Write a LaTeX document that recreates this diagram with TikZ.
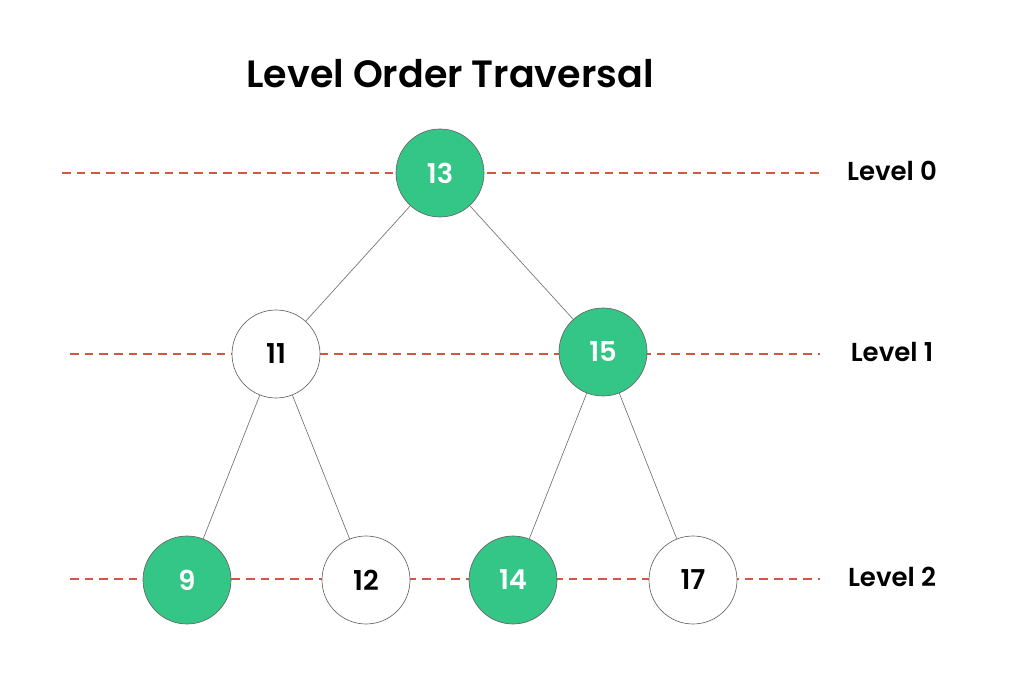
\documentclass[tikz,border=0pt]{standalone}
\usepackage{fontspec}
\setmainfont{Poppins}[BoldFont={Poppins SemiBold}]
\definecolor{knotengruen}{HTML}{34C686}
\definecolor{strichrot}{HTML}{CF5743}
\tikzset{
    knoten/.style={circle, draw=black!60, line width=0.5pt, minimum size=66pt, inner sep=0pt, font=\fontsize{20.5}{20.5}\selectfont\bfseries},
    gruen/.style={knoten, fill=knotengruen, text=white},
    weiss/.style={knoten, fill=white, text=black},
    kante/.style={draw=black!55, line width=0.5pt},
    ebene/.style={draw=strichrot, line width=1.1pt, dash pattern=on 6.5pt off 4.5pt}
}
\begin{document}
\begin{tikzpicture}[x=0.75pt, y=-0.75pt]
        \useasboundingbox (0,0) rectangle (1024,680);

        % Titel
        \node[font=\fontsize{28.5}{28.5}\selectfont\bfseries] (titel) at (450,74) {Level Order Traversal};

        % Ebenen: gestrichelte Linien und Beschriftung
        \foreach \y/\x/\n in {173/62/0, 354/70/1, 579/70/2} {
            \coordinate (start\n) at (\x,\y);
            \coordinate (ende\n) at (820,\y);
            \draw[ebene] (start\n) -- (ende\n); % Linie
            \node[font=\fontsize{19.5}{19.5}\selectfont\bfseries] (ebene\n) at (892,\y-2) {Level \n}; % Text
        }

        % Knoten
        \node[gruen] (n13) at (440,173) {13};
        \node[weiss] (n11) at (276,354) {11};
        \node[gruen] (n15) at (603,352) {15};
        \node[gruen] (n9) at (187,580) {9};
        \node[weiss] (n12) at (366,580) {12};
        \node[gruen] (n14) at (513,580) {14};
        \node[weiss] (n17) at (693,580) {17};

        % Kanten
        \draw[kante] (n13) -- (n11);
        \draw[kante] (n13) -- (n15);
        \draw[kante] (n11) -- (n9);
        \draw[kante] (n11) -- (n12);
        \draw[kante] (n15) -- (n14);
        \draw[kante] (n15) -- (n17);
    \end{tikzpicture}
\end{document}
